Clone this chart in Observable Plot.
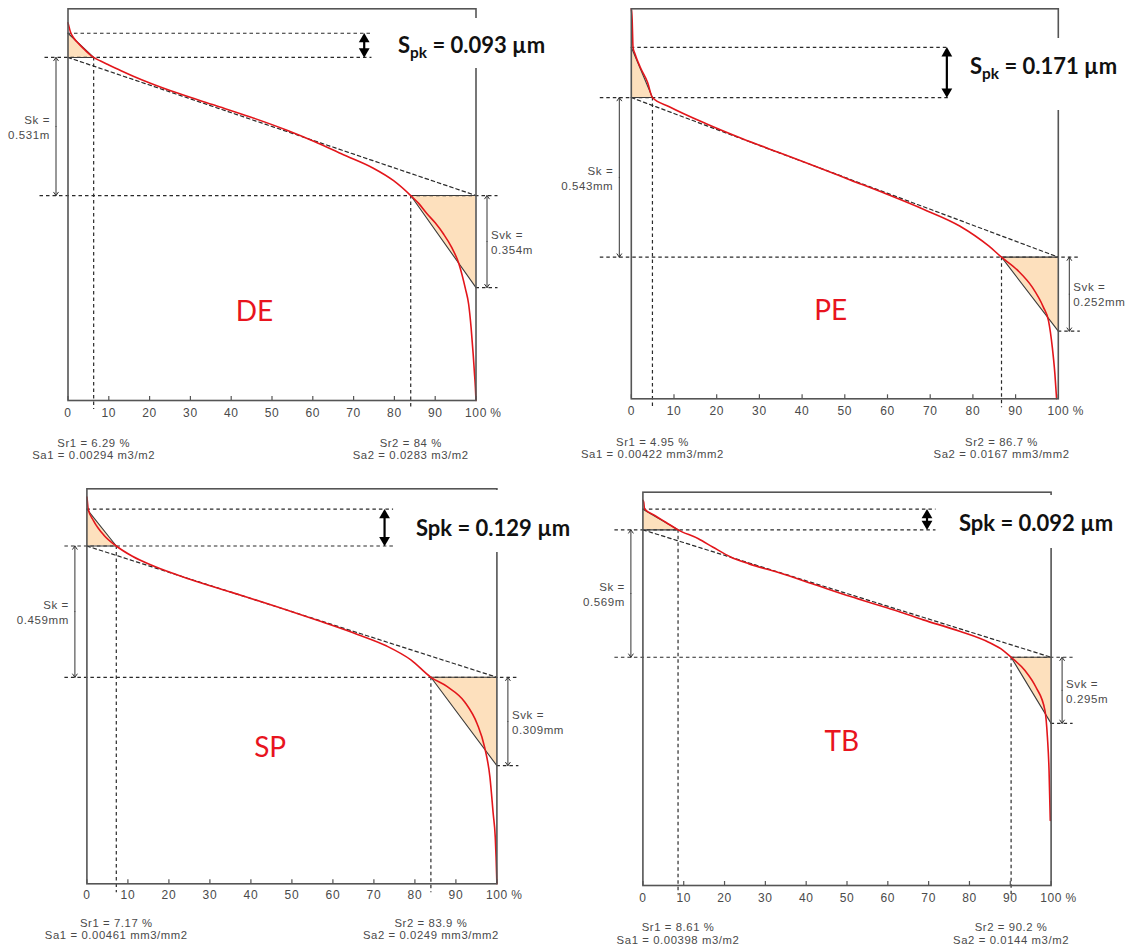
<!DOCTYPE html>
<html>
<head>
<meta charset="utf-8">
<script src="https://cdn.jsdelivr.net/npm/d3@7"></script>
<script src="https://cdn.jsdelivr.net/npm/@observablehq/plot@0.6"></script>
<style>
  body { margin: 0; background: #fff; }
  #wrap { position: relative; width: 1129px; height: 950px; overflow: hidden; background: #fff; }
  .panel { position: absolute; }
  .panel svg { max-width: none !important; }
  .gap { position: absolute; background: #fff; }
  .spk { position: absolute; font-family: Lato, "Open Sans", sans-serif; font-weight: 700; font-size: 22px; color: #111; white-space: nowrap; line-height: 1; transform: translateY(-50%); }
  .spk sub { font-size: 0.7em; vertical-align: -0.3em; line-height: 0; }
</style>
</head>
<body>
<div id="wrap"></div>
<script>
// ---------- data ----------
const samples = ["DE", "PE", "SP", "TB"];
const skValues = [0.531, 0.543, 0.459, 0.569];
const spkValues = [0.093, 0.171, 0.129, 0.092];
const svkValues = [0.354, 0.252, 0.309, 0.295];
const sr1Values = [6.29, 4.95, 7.17, 8.61];
const sr2Values = [84, 86.7, 83.9, 90.2];
const coreBottom = [0.788, 0.482, 0.722, 1.019];   // lower core level above chart floor (µm)
const heightTop = [1.506, 1.327, 1.381, 1.756];    // chart top above chart floor (µm)
const skText = ["0.531m", "0.543mm", "0.459mm", "0.569m"];
const svkText = ["0.354m", "0.252mm", "0.309mm", "0.295m"];
const sa1Text = ["0.00294 m3/m2", "0.00422 mm3/mm2", "0.00461 mm3/mm2", "0.00398 m3/m2"];
const sa2Text = ["0.0283 m3/m2", "0.0167 mm3/mm2", "0.0249 mm3/mm2", "0.0144 m3/m2"];
const spkText = ["0.093 µm", "0.171 µm", "0.129 µm", "0.092 µm"];
const spkSubscript = [true, true, false, false];
const xTicks = [0, 10, 20, 30, 40, 50, 60, 70, 80, 90, 100];

// Abbott-Firestone curves: [material ratio %, height µm]
const curveDE = [[0,1.452],[0.2,1.440],[0.6,1.417],[1.5,1.392],[2.6,1.372],[4,1.350],[5.3,1.331],[6.29,1.319],[8,1.305],[10,1.290],[13,1.268],[16,1.247],[20.2,1.220],[27.2,1.180],[36,1.135],[44.7,1.090],[53.5,1.040],[60.5,0.995],[67.5,0.945],[74.6,0.895],[79.8,0.845],[84,0.788],[86,0.757],[88,0.718],[90,0.683],[92,0.641],[94,0.590],[95.8,0.526],[97.4,0.430],[98.2,0.370],[98.8,0.280],[99.3,0.180],[99.6,0.110],[99.85,0.05],[100,0]];
const curvePE = [[0,1.327],[0.2,1.290],[0.3,1.240],[0.4,1.196],[0.85,1.174],[2.1,1.128],[3.8,1.077],[4.95,1.025],[8.9,0.994],[17.4,0.937],[25.9,0.886],[34.4,0.839],[42.9,0.792],[51.4,0.744],[59.9,0.696],[68.4,0.645],[76.9,0.588],[83.7,0.520],[86.7,0.482],[90.5,0.437],[93.9,0.380],[96.5,0.312],[97.7,0.266],[98.6,0.175],[99.2,0.085],[99.6,0]];
const curveSP = [[0,1.352],[0.1,1.340],[0.3,1.311],[1.6,1.270],[4.2,1.218],[7.17,1.181],[11.1,1.145],[16.4,1.110],[25.1,1.065],[35.5,1.018],[46.9,0.966],[57.3,0.916],[66,0.872],[73,0.832],[79.1,0.782],[83.9,0.722],[87.8,0.690],[92.2,0.635],[95.2,0.559],[97,0.478],[98.3,0.373],[99.1,0.245],[99.6,0.163],[99.8,0.093],[100,0]];
const curveTB = [[0,1.720],[0.2,1.711],[0.4,1.682],[2.9,1.652],[5.6,1.622],[8.61,1.588],[13.6,1.548],[17.2,1.510],[21.6,1.466],[26,1.436],[33.2,1.397],[42,1.344],[50.9,1.290],[59.8,1.240],[68.7,1.186],[77.6,1.135],[84.7,1.086],[88.3,1.049],[90.2,1.019],[93.6,0.960],[96.3,0.885],[98.5,0.781],[99.1,0.662],[99.5,0.513],[99.8,0.290]];
const curves = [curveDE, curvePE, curveSP, curveTB];

// ---------- layout (pixels / positions) ----------
const layout = [
  {left: 0, top: 0, width: 560, height: 470, mL: 67.5, mR: 84.5, mT: 8.3, mB: 70,
   skTopExt: -23, skBotExt: -28, spkX: 72.6, spkEnd: 74.5, labX: 45.7, labF: 0.775,
   tickDy: 16, srDy: 48.5, spk: {x: 398, y: 45}, gap: [385, 18, 170, 50]},
  {left: 560, top: 0, width: 569, height: 470, mL: 70.8, mR: 71.2, mT: 8.3, mB: 71.7,
   skTopExt: -31, skBotExt: -31, spkX: 73.9, spkEnd: 74.3, labX: 46.7, labF: 0.774,
   tickDy: 15.7, srDy: 49, spk: {x: 970, y: 66}, gap: [958, 38, 165, 72]},
  {left: 0, top: 470, width: 560, height: 480, mL: 86.4, mR: 63.6, mT: 18.3, mB: 66.7,
   skTopExt: -22, skBotExt: -22, spkX: 72.6, spkEnd: 74.8, labX: 44.7, labF: 0.657,
   tickDy: 14.7, srDy: 45.5, spk: {x: 416, y: 528}, gap: [404, 490, 170, 62]},
  {left: 560, top: 470, width: 569, height: 480, mL: 82.4, mR: 78.4, mT: 21.7, mB: 65,
   skTopExt: -28, skBotExt: -28, spkX: 69.6, spkEnd: 71.8, labX: 48.7, labF: 0.636,
   tickDy: 16, srDy: 48, spk: {x: 959, y: 523}, gap: [947, 495, 170, 53]}
];

const wrap = document.getElementById("wrap");
const FONT = '"Liberation Sans", Arial, sans-serif';

function drawPanel(i) {
  const L = layout[i];
  const skBot = coreBottom[i];
  const skTop = skBot + skValues[i];
  const spkTop = skTop + spkValues[i];
  const svkBot = skBot - svkValues[i];
  const sr1 = sr1Values[i], sr2 = sr2Values[i];
  const curve = curves[i].map(([x, h]) => ({x, h}));
  const skMid = (skTop + skBot) / 2, svkMid = (skBot + svkBot) / 2;
  const dash = {stroke: "#2a2a2a", strokeWidth: 1.2, strokeDasharray: "3.5,3"};
  const dark = {stroke: "#3c3c3c", strokeWidth: 1.1};
  const small = {fontFamily: FONT, fill: "#4a4a4a"};

  const svg = Plot.plot({
    width: L.width, height: L.height,
    marginLeft: L.mL, marginRight: L.mR, marginTop: L.mT, marginBottom: L.mB,
    x: {domain: [0, 100], axis: null},
    y: {domain: [0, heightTop[i]], axis: null},
    style: {fontFamily: FONT, fontSize: "12px", background: "transparent", overflow: "visible", letterSpacing: "0.6px"},
    marks: [
      Plot.areaY([{x: 0, lo: skTop, hi: spkTop}, {x: sr1, lo: skTop, hi: skTop}], {x: "x", y1: "lo", y2: "hi", fill: "#fde0bd"}),
      Plot.areaY([{x: sr2, lo: skBot, hi: skBot}, {x: 100, lo: svkBot, hi: skBot}], {x: "x", y1: "lo", y2: "hi", fill: "#fde0bd"}),
      Plot.ruleY([{y: spkTop, x1: 0, x2: L.spkEnd}], {y: "y", x1: "x1", x2: "x2", ...dash}),
      Plot.ruleY([{y: skTop, x1: 0, x2: L.spkEnd}], {y: "y", x1: "x1", x2: "x2", insetLeft: L.skTopExt, ...dash}),
      Plot.ruleY([{y: skBot, x1: 0, x2: 100}], {y: "y", x1: "x1", x2: "x2", insetLeft: L.skBotExt, insetRight: -22, ...dash}),
      Plot.ruleY([{y: svkBot, x1: 100, x2: 100}], {y: "y", x1: "x1", x2: "x2", insetRight: -22, ...dash}),
      Plot.ruleX([{x: sr1, y1: skTop, y2: 0}], {x: "x", y1: "y1", y2: "y2", insetBottom: -9, ...dash}),
      Plot.ruleX([{x: sr2, y1: skBot, y2: 0}], {x: "x", y1: "y1", y2: "y2", insetBottom: -9, ...dash}),
      Plot.line([{x: 0, y: skTop}, {x: 100, y: skBot}], {x: "x", y: "y", ...dash}),
      Plot.line([{x: 0, y: spkTop}, {x: sr1, y: skTop}, {x: 0, y: skTop}], {x: "x", y: "y", ...dark}),
      Plot.line([{x: 100, y: skBot}, {x: sr2, y: skBot}, {x: 100, y: svkBot}], {x: "x", y: "y", ...dark}),
      Plot.line(curve, {x: "x", y: "h", stroke: "#e3161b", strokeWidth: 1.6, curve: "monotone-x"}),
      Plot.frame({stroke: "#555", strokeWidth: 1.6}),
      Plot.ruleX(xTicks.map(t => ({x: t, y: 0})), {x: "x", y1: "y", y2: "y", insetBottom: 4, stroke: "#555", strokeWidth: 1.2}),
      Plot.text(xTicks, {x: d => d, frameAnchor: "bottom", dy: L.tickDy, text: d => String(d), fontSize: 12, ...small}),
      Plot.text(["%"], {x: () => 100, frameAnchor: "bottom", dy: L.tickDy, dx: 20, text: d => d, fontSize: 12, ...small}),
      // Sk / Svk dimension arrows and labels
      Plot.arrow([{x: 0, a: skMid, b: skTop}, {x: 0, a: skMid, b: skBot}], {x1: "x", x2: "x", y1: "a", y2: "b", dx: -12, stroke: "#333", strokeWidth: 1, headLength: 6, headAngle: 70}),
      Plot.arrow([{x: 100, a: svkMid, b: skBot}, {x: 100, a: svkMid, b: svkBot}], {x1: "x", x2: "x", y1: "a", y2: "b", dx: 11, stroke: "#333", strokeWidth: 1, headLength: 6, headAngle: 70}),
      Plot.text([{y: skMid, t: `Sk =\n${skText[i]}`}], {y: "y", text: "t", frameAnchor: "left", dx: -18, textAnchor: "end", lineAnchor: "middle", lineHeight: 1.3, fontSize: 11.5, ...small}),
      Plot.text([{y: svkMid, t: `Svk =\n${svkText[i]}`}], {y: "y", text: "t", frameAnchor: "right", dx: 15, textAnchor: "start", lineAnchor: "middle", lineHeight: 1.3, fontSize: 11.5, ...small}),
      // Spk arrow
      Plot.ruleX([{x: L.spkX, a: spkTop, b: skTop}], {x: "x", y1: "a", y2: "b", insetTop: 5, insetBottom: 5, stroke: "#000", strokeWidth: 2.2}),
      Plot.dot([{x: L.spkX, y: spkTop}], {x: "x", y: "y", symbol: "triangle", r: 4, fill: "#000", dy: 6}),
      Plot.dot([{x: L.spkX, y: skTop}], {x: "x", y: "y", symbol: "triangle", r: 4, fill: "#000", rotate: 180, dy: -6}),
      // Sr / Sa values under the axis
      Plot.text([{x: sr1, t: `Sr1 = ${sr1} %\nSa1 = ${sa1Text[i]}`}], {x: "x", text: "t", frameAnchor: "bottom", dy: L.srDy, lineAnchor: "middle", lineHeight: 1.08, fontSize: 11.3, ...small}),
      Plot.text([{x: sr2, t: `Sr2 = ${sr2} %\nSa2 = ${sa2Text[i]}`}], {x: "x", text: "t", frameAnchor: "bottom", dy: L.srDy, lineAnchor: "middle", lineHeight: 1.08, fontSize: 11.3, ...small}),
      // sample label
      Plot.text([{x: L.labX, y: heightTop[i] * (1 - L.labF), t: samples[i]}], {x: "x", y: "y", text: "t", fill: "#e8141e", fontSize: 28, fontFamily: "Lato, 'Open Sans', sans-serif"})
    ]
  });
  svg.querySelectorAll("text").forEach(t => { if (t.textContent === samples[i]) t.style.letterSpacing = "0"; });

  const holder = document.createElement("div");
  holder.className = "panel";
  holder.style.left = L.left + "px";
  holder.style.top = L.top + "px";
  holder.style.width = L.width + "px";
  holder.style.height = L.height + "px";
  holder.appendChild(svg);
  wrap.appendChild(holder);
}

function drawSpkLabel(i) {
  const L = layout[i];
  const gap = document.createElement("div");
  gap.className = "gap";
  const [gx, gy, gw, gh] = L.gap;
  gap.style.cssText = `left:${gx}px;top:${gy}px;width:${gw}px;height:${gh}px;`;
  wrap.appendChild(gap);

  const lab = document.createElement("div");
  lab.className = "spk";
  lab.style.left = L.spk.x + "px";
  lab.style.top = L.spk.y + "px";
  lab.innerHTML = (spkSubscript[i] ? "S<sub>pk</sub>" : "Spk") + " = " + spkText[i];
  wrap.appendChild(lab);
}

samples.forEach((_, i) => drawPanel(i));
samples.forEach((_, i) => drawSpkLabel(i));
</script>
</body>
</html>
